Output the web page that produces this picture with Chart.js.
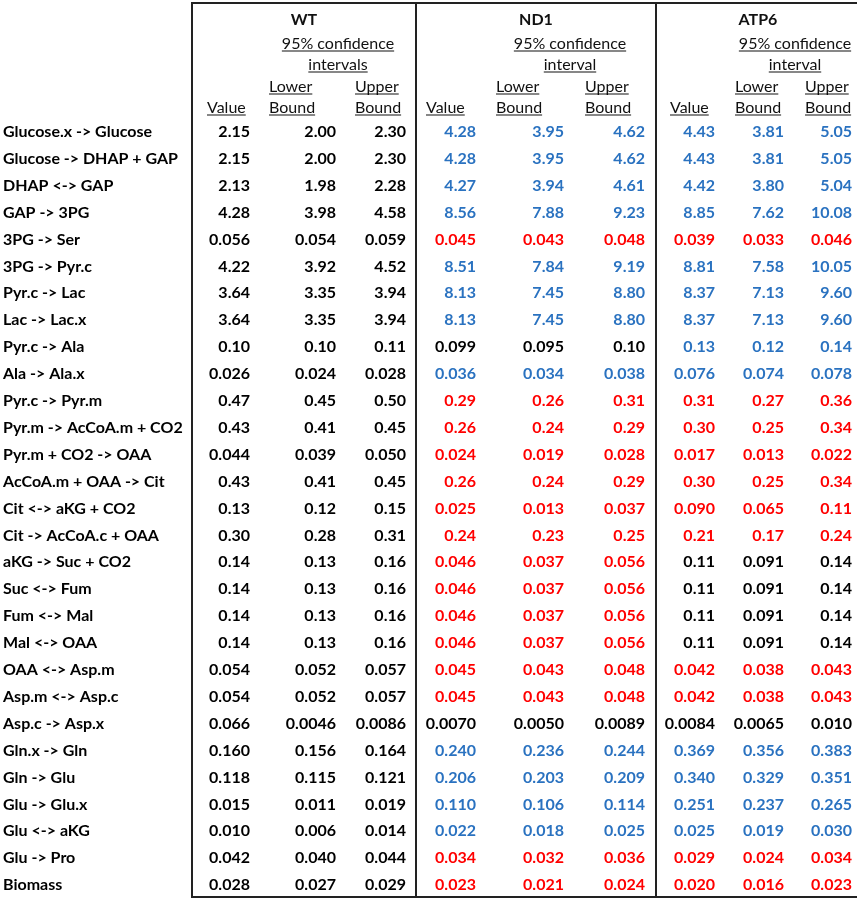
<!DOCTYPE html>
<html>
<head>
<meta charset="utf-8">
<script src="https://cdn.jsdelivr.net/npm/chart.js@4.4.0/dist/chart.umd.min.js"></script>
<style>
  body { margin: 0; background: #fff; }
  canvas { display: block; }
</style>
</head>
<body>
<canvas id="fluxTable" width="857" height="900"></canvas>
<script>
// reactions (rows)
const rowLabels = [
    'Glucose.x -> Glucose', 'Glucose -> DHAP + GAP', 'DHAP <-> GAP', 'GAP -> 3PG', '3PG -> Ser',
    '3PG -> Pyr.c', 'Pyr.c -> Lac', 'Lac -> Lac.x', 'Pyr.c -> Ala', 'Ala -> Ala.x',
    'Pyr.c -> Pyr.m', 'Pyr.m -> AcCoA.m + CO2', 'Pyr.m + CO2 -> OAA', 'AcCoA.m + OAA -> Cit',
    'Cit <-> aKG + CO2', 'Cit -> AcCoA.c + OAA', 'aKG -> Suc + CO2', 'Suc <-> Fum', 'Fum <-> Mal',
    'Mal <-> OAA', 'OAA <-> Asp.m', 'Asp.m <-> Asp.c', 'Asp.c -> Asp.x', 'Gln.x -> Gln',
    'Gln -> Glu', 'Glu -> Glu.x', 'Glu <-> aKG', 'Glu -> Pro', 'Biomass'
];

// values kept as printed (trailing zeros matter)
const wtValue = ['2.15','2.15','2.13','4.28','0.056','4.22','3.64','3.64','0.10','0.026','0.47','0.43','0.044','0.43','0.13','0.30','0.14','0.14','0.14','0.14','0.054','0.054','0.066','0.160','0.118','0.015','0.010','0.042','0.028'];
const wtLower = ['2.00','2.00','1.98','3.98','0.054','3.92','3.35','3.35','0.10','0.024','0.45','0.41','0.039','0.41','0.12','0.28','0.13','0.13','0.13','0.13','0.052','0.052','0.0046','0.156','0.115','0.011','0.006','0.040','0.027'];
const wtUpper = ['2.30','2.30','2.28','4.58','0.059','4.52','3.94','3.94','0.11','0.028','0.50','0.45','0.050','0.45','0.15','0.31','0.16','0.16','0.16','0.16','0.057','0.057','0.0086','0.164','0.121','0.019','0.014','0.044','0.029'];

const nd1Value = ['4.28','4.28','4.27','8.56','0.045','8.51','8.13','8.13','0.099','0.036','0.29','0.26','0.024','0.26','0.025','0.24','0.046','0.046','0.046','0.046','0.045','0.045','0.0070','0.240','0.206','0.110','0.022','0.034','0.023'];
const nd1Lower = ['3.95','3.95','3.94','7.88','0.043','7.84','7.45','7.45','0.095','0.034','0.26','0.24','0.019','0.24','0.013','0.23','0.037','0.037','0.037','0.037','0.043','0.043','0.0050','0.236','0.203','0.106','0.018','0.032','0.021'];
const nd1Upper = ['4.62','4.62','4.61','9.23','0.048','9.19','8.80','8.80','0.10','0.038','0.31','0.29','0.028','0.29','0.037','0.25','0.056','0.056','0.056','0.056','0.048','0.048','0.0089','0.244','0.209','0.114','0.025','0.036','0.024'];

const atp6Value = ['4.43','4.43','4.42','8.85','0.039','8.81','8.37','8.37','0.13','0.076','0.31','0.30','0.017','0.30','0.090','0.21','0.11','0.11','0.11','0.11','0.042','0.042','0.0084','0.369','0.340','0.251','0.025','0.029','0.020'];
const atp6Lower = ['3.81','3.81','3.80','7.62','0.033','7.58','7.13','7.13','0.12','0.074','0.27','0.25','0.013','0.25','0.065','0.17','0.091','0.091','0.091','0.091','0.038','0.038','0.0065','0.356','0.329','0.237','0.019','0.024','0.016'];
const atp6Upper = ['5.05','5.05','5.04','10.08','0.046','10.05','9.60','9.60','0.14','0.078','0.36','0.34','0.022','0.34','0.11','0.24','0.14','0.14','0.14','0.14','0.043','0.043','0.010','0.383','0.351','0.265','0.030','0.034','0.023'];

// change vs WT for each row
const nd1Change = ['up','up','up','up','down','up','up','up','same','up','down','down','down','down','down','down','down','down','down','down','down','down','same','up','up','up','up','down','down'];
const atp6Change = ['up','up','up','up','down','up','up','up','up','up','down','down','down','down','down','down','same','same','same','same','down','down','same','up','up','up','up','down','down'];

// header texts
const groupNames = ['WT', 'ND1', 'ATP6'];
const ciLine1 = ['95% confidence', '95% confidence', '95% confidence'];
const ciLine2 = ['intervals', 'interval', 'interval'];

// layout (pixels / row units)
const W = 857, H = 900;
const FIRST_ROW = 131, ROW_PITCH = 26.9;
const colRight = [250, 336, 406, 476, 564, 645, 715, 784, 852];
const valueLeft = [207, 426, 670];
const lowerLeft = [269, 496, 735];
const upperLeft = [355, 585, 805];
const groupCenter = [304, 536, 758];
const ciCenter = [338, 570, 795];
const headerY = { group: 19, ci1: 43, ci2: 64, lower: 86, bound: 107 };
const borderX = [192, 416, 656];
const borderTop = 3, borderBottom = 897;
const CAP_HALF = 6;

const changeColor = { up: '#2a72c0', down: '#ff0000', same: '#000000' };
const boldFont = 'bold 16px Lato, "Open Sans", sans-serif';
const headFont = '16px Lato, "Open Sans", sans-serif';

function pxToRow(p) {
    return (p - FIRST_ROW) / ROW_PITCH;
}

function columnDataset(texts, x, colors) {
    return {
        data: texts.map((t, i) => ({ x: x, y: i })),
        texts: texts,
        colors: colors,
        align: 'right',
        pointRadius: 0
    };
}

const wtColors = rowLabels.map(() => '#000000');
const nd1Colors = nd1Change.map(c => changeColor[c]);
const atp6Colors = atp6Change.map(c => changeColor[c]);

const datasets = [
    { data: rowLabels.map((t, i) => ({ x: 3, y: i })), texts: rowLabels, colors: wtColors, align: 'left', pointRadius: 0 },
    columnDataset(wtValue, colRight[0], wtColors),
    columnDataset(wtLower, colRight[1], wtColors),
    columnDataset(wtUpper, colRight[2], wtColors),
    columnDataset(nd1Value, colRight[3], nd1Colors),
    columnDataset(nd1Lower, colRight[4], nd1Colors),
    columnDataset(nd1Upper, colRight[5], nd1Colors),
    columnDataset(atp6Value, colRight[6], atp6Colors),
    columnDataset(atp6Lower, colRight[7], atp6Colors),
    columnDataset(atp6Upper, colRight[8], atp6Colors)
];

const tablePlugin = {
    id: 'tableText',
    afterDatasetsDraw(chart) {
        const ctx = chart.ctx;
        const xs = chart.scales.x, ys = chart.scales.y;
        ctx.save();

        // cells
        ctx.font = boldFont;
        ctx.textBaseline = 'alphabetic';
        chart.data.datasets.forEach((ds, i) => {
            const meta = chart.getDatasetMeta(i);
            ctx.textAlign = ds.align;
            meta.data.forEach((pt, j) => {
                ctx.fillStyle = ds.colors[j];
                ctx.fillText(ds.texts[j], pt.x, pt.y + CAP_HALF);
            });
        });

        // headers
        function head(text, x, yPx, align, bold, underline) {
            ctx.font = bold ? boldFont : headFont;
            ctx.textAlign = align;
            ctx.fillStyle = '#111111';
            const px = xs.getPixelForValue(x);
            const py = ys.getPixelForValue(pxToRow(yPx)) + CAP_HALF;
            ctx.fillText(text, px, py);
            if (underline) {
                const w = ctx.measureText(text).width;
                const left = align === 'center' ? px - w / 2 : px;
                ctx.strokeStyle = '#111111';
                ctx.lineWidth = 1.2;
                ctx.beginPath();
                ctx.moveTo(left, py + 2);
                ctx.lineTo(left + w, py + 2);
                ctx.stroke();
            }
        }
        for (let g = 0; g < 3; g++) {
            head(groupNames[g], groupCenter[g], headerY.group, 'center', true, false);
            head(ciLine1[g], ciCenter[g], headerY.ci1, 'center', false, true);
            head(ciLine2[g], ciCenter[g], headerY.ci2, 'center', false, true);
            head('Lower', lowerLeft[g], headerY.lower, 'left', false, true);
            head('Bound', lowerLeft[g], headerY.bound, 'left', false, true);
            head('Upper', upperLeft[g], headerY.lower, 'left', false, true);
            head('Bound', upperLeft[g], headerY.bound, 'left', false, true);
            head('Value', valueLeft[g], headerY.bound, 'left', false, true);
        }

        // borders
        const top = ys.getPixelForValue(pxToRow(borderTop));
        const bottom = ys.getPixelForValue(pxToRow(borderBottom));
        ctx.strokeStyle = '#222222';
        ctx.lineWidth = 2;
        ctx.beginPath();
        borderX.forEach(bx => {
            const px = xs.getPixelForValue(bx);
            ctx.moveTo(px, top);
            ctx.lineTo(px, bottom);
        });
        ctx.moveTo(xs.getPixelForValue(borderX[0]) - 1, top);
        ctx.lineTo(xs.getPixelForValue(W), top);
        ctx.moveTo(xs.getPixelForValue(borderX[0]) - 1, bottom);
        ctx.lineTo(xs.getPixelForValue(W), bottom);
        ctx.stroke();

        ctx.restore();
    }
};

new Chart(document.getElementById('fluxTable').getContext('2d'), {
    type: 'scatter',
    data: { datasets: datasets },
    options: {
        responsive: false,
        animation: false,
        events: [],
        layout: { padding: 0 },
        plugins: { legend: { display: false }, tooltip: { enabled: false } },
        scales: {
            x: { type: 'linear', min: 0, max: W, display: false },
            y: { type: 'linear', reverse: true, min: pxToRow(0), max: pxToRow(H), display: false }
        }
    },
    plugins: [tablePlugin]
});
</script>
</body>
</html>
